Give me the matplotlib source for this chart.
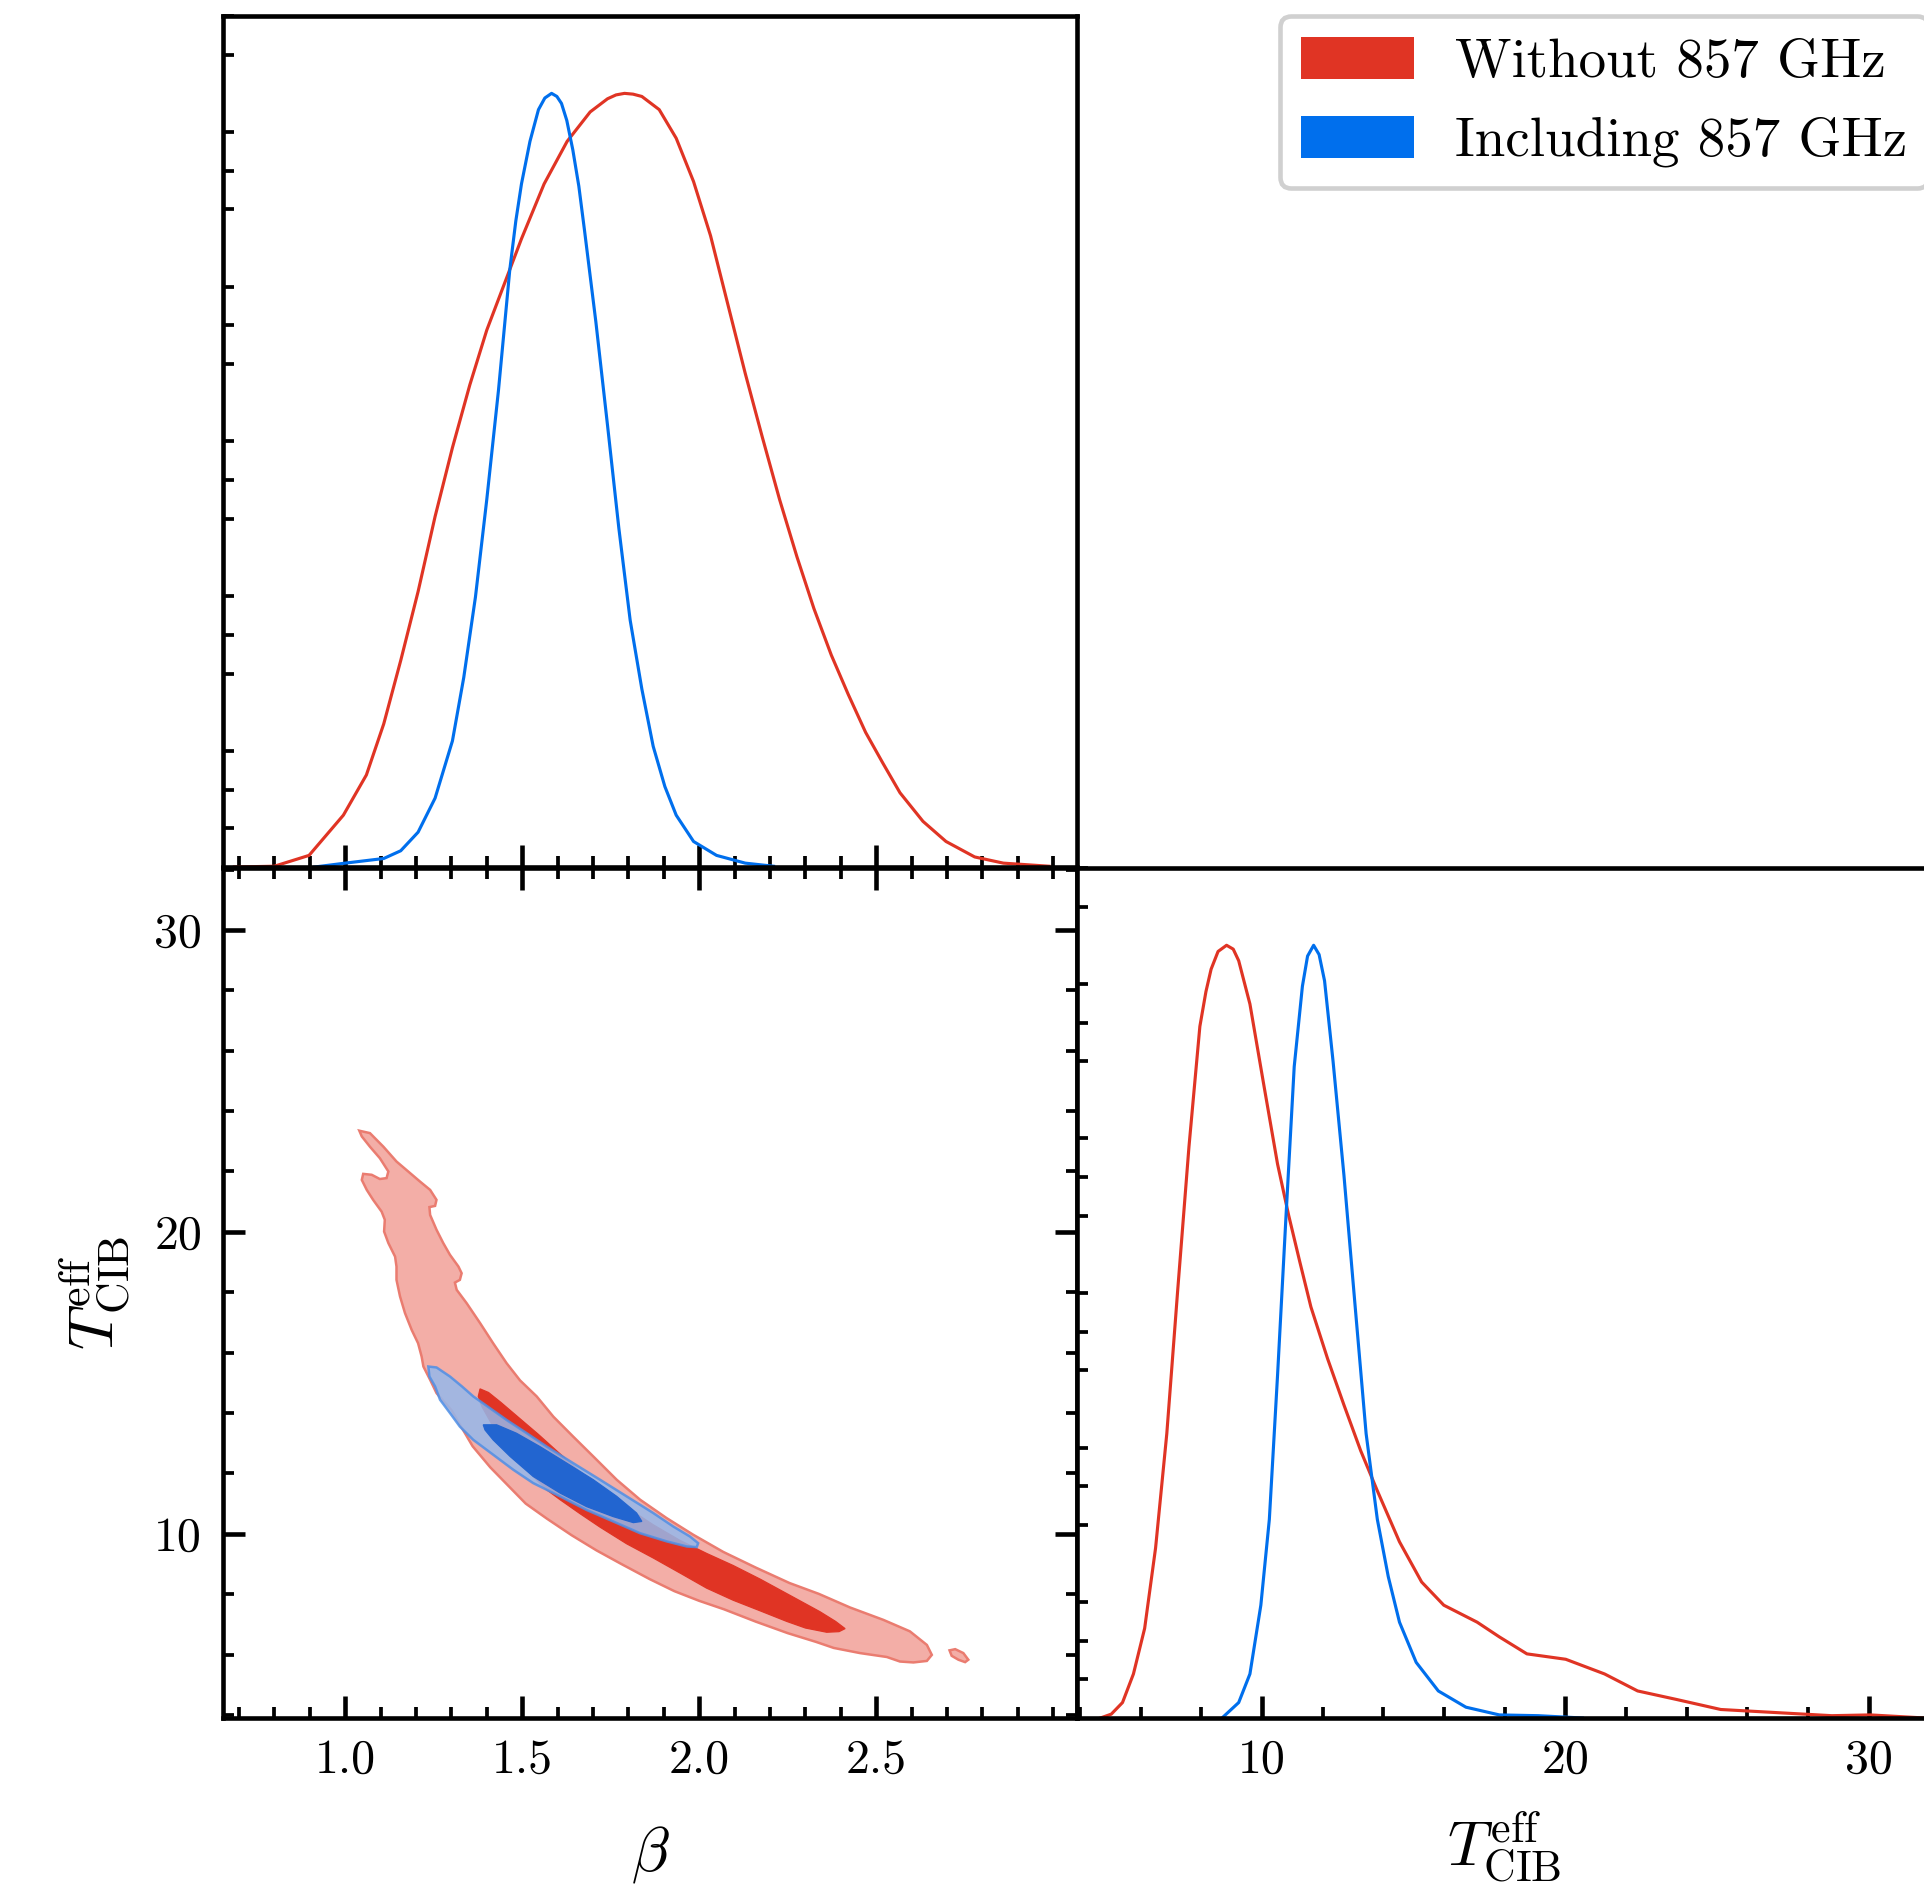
import matplotlib
matplotlib.use("Agg")
import matplotlib.pyplot as plt
import matplotlib.ticker as ticker
from matplotlib.patches import Patch

plt.rcParams["font.family"] = "serif"
plt.rcParams["font.serif"] = ["cmr10"]
plt.rcParams["mathtext.fontset"] = "cm"
plt.rcParams["axes.formatter.use_mathtext"] = True

# ---------------------------------------------------------------------------
# Data
# ---------------------------------------------------------------------------

# 1D marginal of beta, normalised to peak 1
beta_red = [0.687, 0.80, 0.898, 0.995, 1.06, 1.109, 1.157, 1.206, 1.254, 1.303, 1.352,
            1.40, 1.449, 1.498, 1.562, 1.627, 1.692, 1.741, 1.765, 1.789, 1.813, 1.838,
            1.887, 1.935, 1.984, 2.032, 2.081, 2.13, 2.178, 2.227, 2.276, 2.324, 2.373,
            2.421, 2.47, 2.519, 2.567, 2.632, 2.697, 2.778, 2.859, 2.988]
pdf_beta_red = [0.0, 0.001, 0.015, 0.067, 0.119, 0.185, 0.267, 0.356, 0.453, 0.542, 0.623,
                0.694, 0.753, 0.812, 0.883, 0.938, 0.976, 0.993, 0.998, 1.0, 0.999, 0.996,
                0.979, 0.942, 0.886, 0.816, 0.727, 0.638, 0.556, 0.475, 0.401, 0.334,
                0.274, 0.223, 0.174, 0.134, 0.096, 0.059, 0.033, 0.013, 0.005, 0.001]

beta_blue = [0.914, 1.0, 1.109, 1.157, 1.206, 1.254, 1.303, 1.335, 1.368, 1.40, 1.433,
             1.465, 1.482, 1.498, 1.522, 1.546, 1.564, 1.583, 1.598, 1.611, 1.626, 1.643,
             1.660, 1.676, 1.708, 1.741, 1.773, 1.805, 1.838, 1.87, 1.903, 1.935, 1.984,
             2.049, 2.13, 2.21]
pdf_beta_blue = [0.0, 0.005, 0.011, 0.021, 0.045, 0.089, 0.163, 0.245, 0.349, 0.475, 0.616,
                 0.772, 0.835, 0.883, 0.938, 0.979, 0.994, 1.0, 0.996, 0.987, 0.965, 0.927,
                 0.880, 0.823, 0.705, 0.571, 0.438, 0.319, 0.230, 0.156, 0.104, 0.067,
                 0.033, 0.015, 0.005, 0.001]

# 1D marginal of T_CIB^eff, normalised to peak 1
temp_red = [4.67, 5.03, 5.40, 5.76, 6.13, 6.49, 6.86, 7.22, 7.59, 7.95, 8.15, 8.32, 8.55,
            8.83, 9.05, 9.23, 9.60, 10.05, 10.51, 10.88, 11.24, 11.61, 12.16, 12.70, 13.25,
            13.80, 14.53, 15.26, 15.99, 17.09, 17.82, 18.73, 20.01, 21.29, 22.38, 23.66,
            25.12, 26.95, 28.78, 30.05, 31.84]
pdf_temp_red = [0.0, 0.005, 0.02, 0.057, 0.116, 0.22, 0.368, 0.554, 0.739, 0.895, 0.94,
                0.969, 0.992, 1.0, 0.995, 0.98, 0.924, 0.821, 0.717, 0.65, 0.591, 0.532,
                0.465, 0.405, 0.346, 0.294, 0.228, 0.176, 0.146, 0.124, 0.105, 0.083,
                0.076, 0.057, 0.035, 0.024, 0.011, 0.007, 0.003, 0.004, 0.0]

temp_blue = [8.68, 9.23, 9.60, 9.96, 10.24, 10.51, 10.79, 11.06, 11.33, 11.50, 11.70,
             11.88, 12.06, 12.34, 12.70, 13.07, 13.43, 13.80, 14.16, 14.53, 15.08, 15.81,
             16.72, 17.82, 19.1, 20.56]
pdf_temp_blue = [0.0, 0.02, 0.057, 0.146, 0.257, 0.443, 0.65, 0.843, 0.947, 0.986, 1.0,
                 0.988, 0.954, 0.85, 0.702, 0.532, 0.368, 0.257, 0.183, 0.124, 0.072,
                 0.035, 0.014, 0.004, 0.003, 0.0]

# 2D contours (beta, T) - 95% and 68% regions
red95_beta = [1.040, 1.070, 1.108, 1.145, 1.178, 1.211, 1.240, 1.258, 1.254, 1.238, 1.240,
              1.258, 1.277, 1.296, 1.320, 1.329, 1.324, 1.310, 1.315, 1.343, 1.381, 1.418,
              1.456, 1.494, 1.541, 1.588, 1.644, 1.701, 1.767, 1.833, 1.908, 1.983, 2.068,
              2.160, 2.255, 2.338, 2.426, 2.520, 2.595, 2.643, 2.657, 2.643, 2.605, 2.567,
              2.530, 2.454, 2.380, 2.330, 2.250, 2.160, 2.070, 2.000, 1.930, 1.860, 1.780,
              1.710, 1.640, 1.570, 1.510, 1.460, 1.410, 1.360, 1.300, 1.258, 1.240, 1.221,
              1.216, 1.206, 1.188, 1.169, 1.155, 1.145, 1.145, 1.141, 1.122, 1.110, 1.112,
              1.103, 1.079, 1.061, 1.047, 1.051, 1.075, 1.098, 1.117, 1.122, 1.098, 1.070,
              1.047]
red95_temp = [23.35, 23.27, 22.82, 22.33, 22.00, 21.67, 21.39, 21.06, 20.86, 20.82, 20.56,
              20.07, 19.63, 19.24, 18.85, 18.63, 18.41, 18.32, 18.08, 17.64, 16.98, 16.31,
              15.65, 15.08, 14.55, 13.88, 13.22, 12.56, 11.79, 11.13, 10.52, 9.97, 9.40,
              8.88, 8.37, 8.01, 7.56, 7.15, 6.77, 6.32, 5.99, 5.79, 5.74, 5.77,
              5.92, 6.05, 6.22, 6.42, 6.71, 7.09, 7.50, 7.78, 8.10, 8.50, 9.00,
              9.45, 9.95, 10.50, 11.00, 11.60, 12.20, 12.90, 14.10, 14.66, 15.10, 15.54,
              15.87, 16.31, 16.75, 17.31, 17.86, 18.41, 18.85, 19.18, 19.63, 20.01, 20.40,
              20.67, 21.06, 21.39, 21.72, 21.92, 21.89, 21.75, 21.78, 22.00, 22.44, 22.82,
              23.16]

red95_island_beta = [2.707, 2.723, 2.746, 2.760, 2.751, 2.732, 2.713]
red95_island_temp = [6.14, 6.18, 6.05, 5.83, 5.75, 5.83, 5.96]

red68_beta = [1.381, 1.405, 1.440, 1.490, 1.545, 1.600, 1.660, 1.720, 1.795, 1.870, 1.946,
              2.021, 2.096, 2.172, 2.266, 2.341, 2.385, 2.412, 2.395, 2.360, 2.300, 2.247,
              2.172, 2.096, 2.021, 1.946, 1.870, 1.795, 1.720, 1.663, 1.607, 1.569, 1.531,
              1.494, 1.456, 1.418, 1.386, 1.376]
red68_temp = [14.80, 14.68, 14.35, 13.85, 13.30, 12.72, 12.10, 11.52, 10.88, 10.30, 9.78,
              9.35, 8.95, 8.50, 7.90, 7.42, 7.10, 6.86, 6.76, 6.74, 6.88, 7.10,
              7.45, 7.80, 8.20, 8.70, 9.20, 9.67, 10.22, 10.67, 11.13, 11.46, 11.90,
              12.45, 13.00, 13.55, 14.22, 14.55]

blue95_beta = [1.235, 1.258, 1.296, 1.330, 1.362, 1.409, 1.456, 1.513, 1.569, 1.644, 1.720,
               1.795, 1.870, 1.927, 1.974, 1.997, 1.993, 1.965, 1.908, 1.833, 1.757, 1.682,
               1.607, 1.531, 1.475, 1.418, 1.362, 1.324, 1.296, 1.268, 1.254, 1.238]
blue95_temp = [15.54, 15.51, 15.21, 14.88, 14.55, 14.16, 13.77, 13.33, 12.89, 12.34, 11.79,
               11.24, 10.69, 10.24, 9.91, 9.69, 9.56, 9.58, 9.75, 10.02, 10.41, 10.79,
               11.24, 11.68, 12.12, 12.62, 13.11, 13.55, 14.00, 14.44, 14.88, 15.21]

blue68_beta = [1.390, 1.428, 1.484, 1.550, 1.626, 1.701, 1.767, 1.823, 1.838, 1.814, 1.757,
               1.682, 1.607, 1.531, 1.466, 1.418, 1.395]
blue68_temp = [13.61, 13.61, 13.33, 12.89, 12.34, 11.79, 11.24, 10.69, 10.41, 10.37, 10.57,
               10.90, 11.35, 11.90, 12.56, 13.11, 13.44]

labels = ["Without 857 GHz", "Including 857 GHz"]

# ---------------------------------------------------------------------------
# Style
# ---------------------------------------------------------------------------
RED = "#E03424"
BLUE = "#006FED"
RED_LIGHT = "#F3AEA7"
RED_EDGE = "#EA7C70"
BLUE_LIGHT = "#95B8EB"
BLUE_EDGE = "#4F8FE6"
BLUE_DARK = "#2265D0"

BETA_LIM = (0.655, 3.067)
TEMP_LIM = (3.9, 32.05)

W, H, DPI = 1924, 1894, 300
fig = plt.figure(figsize=(W / DPI, H / DPI), dpi=DPI)


def box(x0, y0, x1, y1):
    return [x0 / W, 1 - y1 / H, (x1 - x0) / W, (y1 - y0) / H]


ax_b = fig.add_axes(box(223, 16, 1077, 867))
ax_2d = fig.add_axes(box(223, 868, 1077, 1718))
ax_t = fig.add_axes(box(1077, 868, 1931, 1718))

for ax in (ax_b, ax_2d, ax_t):
    for sp in ax.spines.values():
        sp.set_linewidth(1.1)
    ax.tick_params(which="major", direction="in", length=5.2, width=1.1,
                   labelsize=11.5, pad=5)
    ax.tick_params(which="minor", direction="in", length=2.7, width=0.9)

# ---- top: beta marginal ---------------------------------------------------
ax_b.plot(beta_red, pdf_beta_red, color=RED, lw=0.75)
ax_b.plot(beta_blue, pdf_beta_blue, color=BLUE, lw=0.75)
ax_b.set_xlim(*BETA_LIM)
ax_b.set_ylim(0, 1.1)
ax_b.xaxis.set_major_locator(ticker.FixedLocator([1.0, 1.5, 2.0, 2.5]))
ax_b.xaxis.set_minor_locator(ticker.MultipleLocator(0.1))
ax_b.yaxis.set_major_locator(ticker.MultipleLocator(0.2))
ax_b.yaxis.set_minor_locator(ticker.MultipleLocator(0.05))
ax_b.tick_params(axis="y", which="major", length=0)
ax_b.tick_params(labelbottom=False, labelleft=False)

# ---- bottom-left: 2D contours -------------------------------------------
ax_2d.fill(red95_beta, red95_temp, facecolor=RED_LIGHT, edgecolor=RED_EDGE, lw=0.6)
ax_2d.fill(red95_island_beta, red95_island_temp, facecolor=RED_LIGHT,
           edgecolor=RED_EDGE, lw=0.6)
ax_2d.fill(red68_beta, red68_temp, facecolor=RED, edgecolor=RED, lw=0.3)
ax_2d.fill(blue95_beta, blue95_temp, facecolor=BLUE_LIGHT, edgecolor=BLUE_EDGE,
           lw=0.6, alpha=0.85)
ax_2d.fill(blue68_beta, blue68_temp, facecolor=BLUE_DARK, edgecolor=BLUE_DARK, lw=0.3)
ax_2d.set_xlim(*BETA_LIM)
ax_2d.set_ylim(*TEMP_LIM)
ax_2d.xaxis.set_major_locator(ticker.FixedLocator([1.0, 1.5, 2.0, 2.5]))
ax_2d.xaxis.set_major_formatter(ticker.FormatStrFormatter("%.1f"))
ax_2d.xaxis.set_minor_locator(ticker.MultipleLocator(0.1))
ax_2d.yaxis.set_major_locator(ticker.FixedLocator([10, 20, 30]))
ax_2d.yaxis.set_major_formatter(ticker.FormatStrFormatter("%d"))
ax_2d.yaxis.set_minor_locator(ticker.MultipleLocator(2))
ax_2d.tick_params(which="both", top=True, right=True)
ax_2d.set_xlabel(r"$\beta$", fontsize=15)
ax_2d.set_ylabel(r"$T_{\rm CIB}^{\rm eff}$", fontsize=15)
ax_2d.xaxis.set_label_coords(0.5, -0.125)
ax_2d.yaxis.set_label_coords(-0.105, 0.5)

# ---- bottom-right: T marginal -------------------------------------------
ax_t.plot(temp_red, pdf_temp_red, color=RED, lw=0.75)
ax_t.plot(temp_blue, pdf_temp_blue, color=BLUE, lw=0.75)
ax_t.set_xlim(*TEMP_LIM)
ax_t.set_ylim(0, 1.1)
ax_t.xaxis.set_major_locator(ticker.FixedLocator([10, 20, 30]))
ax_t.xaxis.set_major_formatter(ticker.FormatStrFormatter("%d"))
ax_t.xaxis.set_minor_locator(ticker.MultipleLocator(2))
ax_t.yaxis.set_major_locator(ticker.MultipleLocator(0.2))
ax_t.yaxis.set_minor_locator(ticker.MultipleLocator(0.05))
ax_t.tick_params(axis="y", which="major", length=0)
ax_t.tick_params(labelleft=False)
ax_t.set_xlabel(r"$T_{\rm CIB}^{\rm eff}$", fontsize=15)
ax_t.xaxis.set_label_coords(0.5, -0.108)

# ---- legend ---------------------------------------------------------------
handles = [Patch(facecolor=RED, edgecolor="none"), Patch(facecolor=BLUE, edgecolor="none")]
leg = fig.legend(handles, labels, loc="upper left",
                 bbox_to_anchor=(1280 / W, 1 - 16 / H), borderaxespad=0,
                 fontsize=13.2, frameon=True, fancybox=True, framealpha=1,
                 edgecolor="#d0d0d0", handlelength=2.05, handleheight=0.8,
                 handletextpad=0.75, labelspacing=0.5, borderpad=0.38)
leg.get_frame().set_linewidth(1.1)

fig.savefig("out.png", dpi=DPI)
